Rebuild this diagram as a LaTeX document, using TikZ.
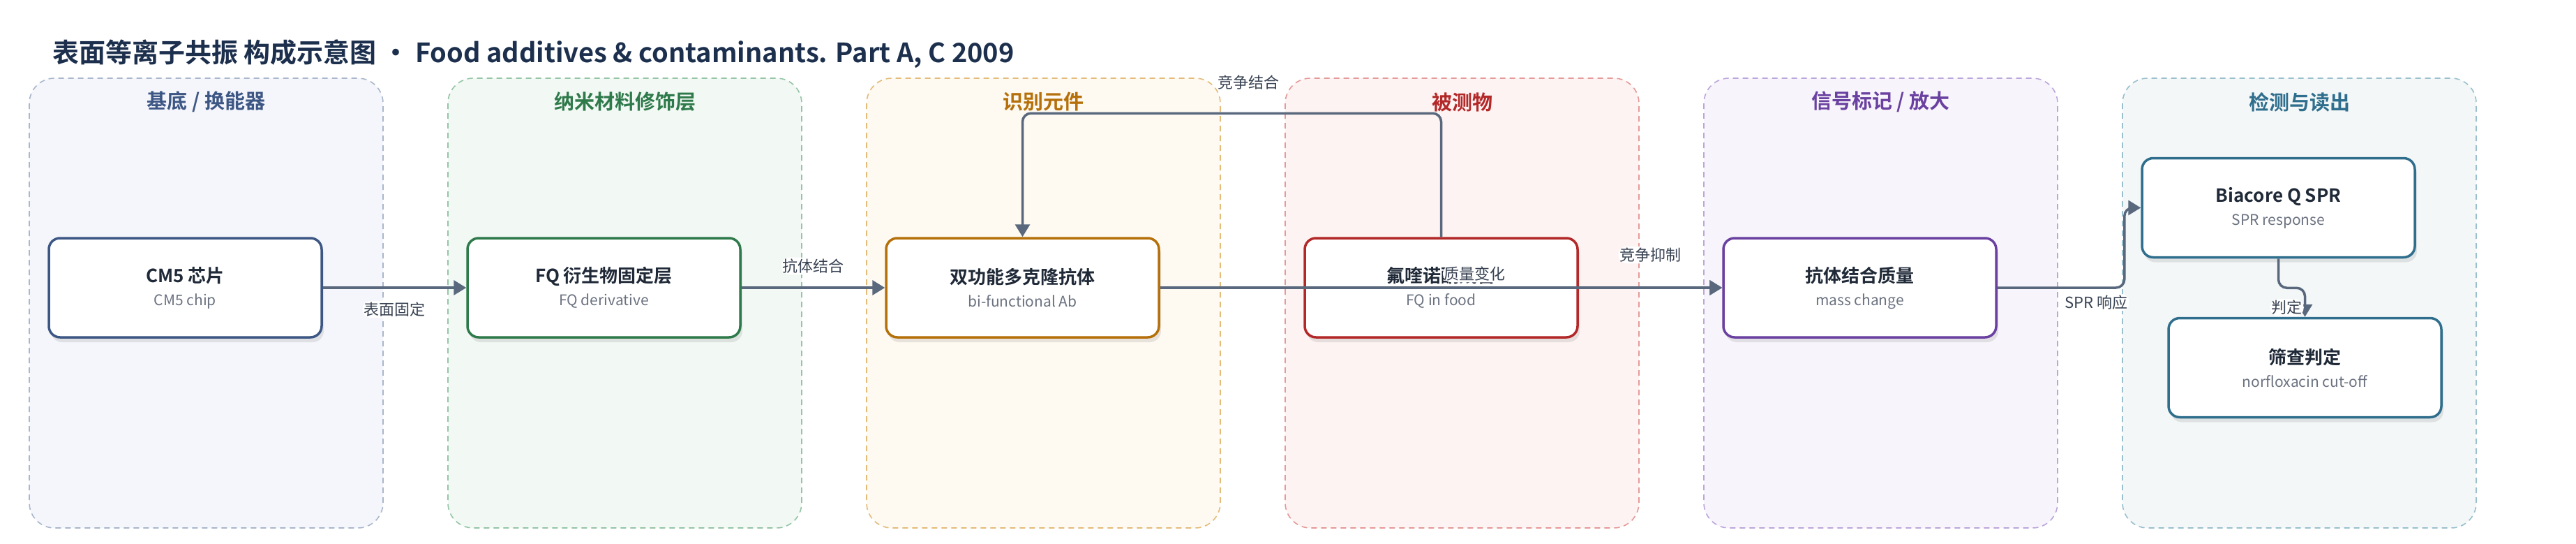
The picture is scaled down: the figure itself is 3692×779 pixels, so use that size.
\documentclass[tikz,border=0pt]{standalone}
\usepackage{fontspec}
\setmainfont{Noto Sans CJK SC}[BoldFont={Noto Sans CJK SC Bold}]
\usetikzlibrary{arrows.meta,shadows}

\definecolor{titlec}{HTML}{1C2F4D}
\definecolor{edgec}{HTML}{59687D}
\definecolor{textc}{HTML}{1F2937}
\definecolor{subc}{HTML}{6B7280}
\definecolor{lblc}{HTML}{374151}
\definecolor{laneAdraw}{HTML}{A9B6CB}\definecolor{laneAfill}{HTML}{F5F6FB}\definecolor{laneAtext}{HTML}{3D5785}
\definecolor{laneBdraw}{HTML}{95C4A6}\definecolor{laneBfill}{HTML}{F2F8F4}\definecolor{laneBtext}{HTML}{2E7A4A}
\definecolor{laneCdraw}{HTML}{E3BC7A}\definecolor{laneCfill}{HTML}{FEF9F1}\definecolor{laneCtext}{HTML}{B5700A}
\definecolor{laneDdraw}{HTML}{E39A98}\definecolor{laneDfill}{HTML}{FDF3F2}\definecolor{laneDtext}{HTML}{B32828}
\definecolor{laneEdraw}{HTML}{BBA6DA}\definecolor{laneEfill}{HTML}{F7F4FB}\definecolor{laneEtext}{HTML}{6A41A0}
\definecolor{laneFdraw}{HTML}{9AC0CD}\definecolor{laneFfill}{HTML}{F3F7F8}\definecolor{laneFtext}{HTML}{2F6E8D}

\newcommand{\nt}[1]{{\fontsize{26pt}{33pt}\selectfont\bfseries\color{textc}#1}}
\newcommand{\ns}[1]{{\fontsize{21pt}{33pt}\selectfont\color{subc}#1}}

\begin{document}
\begin{tikzpicture}[x=1pt,y=-1pt]
\tikzset{lane/.style={draw=#1draw, fill=#1fill, line width=1.6pt, dash pattern=on 8pt off 6pt, rounded corners=36pt},
  lanetitle/.style={text=#1text, font=\fontsize{29pt}{29pt}\selectfont\bfseries},
  box/.style={draw=#1text, line width=3.5pt, fill=white, rounded corners=16pt, minimum width=391pt, minimum height=142pt, align=center, font=\fontsize{21pt}{33pt}\selectfont, drop shadow={shadow xshift=3pt, shadow yshift=-7pt, opacity=0.18}},
  flow/.style={draw=edgec, line width=3.5pt, rounded corners=12pt, -{Triangle[length=18pt,width=21pt]}},
  lbl/.style={fill=white, inner sep=2pt, text=lblc, font=\fontsize{22pt}{22pt}\selectfont}}
\useasboundingbox (0,0) rectangle (3692,779);
\fill[white] (0,0) rectangle (3692,779);
\node[anchor=west, inner sep=0pt, text=titlec, font=\fontsize{38pt}{38pt}\selectfont\bfseries] (title) at (75,77) {表面等离子共振 构成示意图 • Food additives \& contaminants. Part A, C 2009};
\draw[lane=laneA] (42,112) rectangle (549,756);
\draw[lane=laneB] (642,112) rectangle (1149,756);
\draw[lane=laneC] (1242,112) rectangle (1749,756);
\draw[lane=laneD] (1842,112) rectangle (2349,756);
\draw[lane=laneE] (2442,112) rectangle (2949,756);
\draw[lane=laneF] (3042,112) rectangle (3549,756);
\node[lanetitle=laneA] (LA) at (295.5,146) {基底 / 换能器};
\node[lanetitle=laneB] (LB) at (895.5,146) {纳米材料修饰层};
\node[lanetitle=laneC] (LC) at (1495.5,146) {识别元件};
\node[lanetitle=laneD] (LD) at (2095.5,146) {被测物};
\node[lanetitle=laneE] (LE) at (2695.5,146) {信号标记 / 放大};
\node[lanetitle=laneF] (LF) at (3295.5,146) {检测与读出};
\node[box=laneA] (chip) at (265.5,412) {\nt{CM5 芯片}\\\ns{CM5 chip}};
\node[box=laneB] (fq) at (865.5,412) {\nt{FQ 衍生物固定层}\\\ns{FQ derivative}};
\node[box=laneC] (ab) at (1465.5,412) {\nt{双功能多克隆抗体}\\\ns{bi-functional Ab}};
\node[box=laneD] (fqfood) at (2065.5,412) {\nt{氟喹诺酮残留}\\\ns{FQ in food}};
\node[box=laneE] (mass) at (2665.5,412) {\nt{抗体结合质量}\\\ns{mass change}};
\node[box=laneF] (spr) at (3265.5,297.5) {\nt{Biacore Q SPR}\\\ns{SPR response}};
\node[box=laneF] (judge) at (3303.5,526.5) {\nt{筛查判定}\\\ns{norfloxacin cut-off}};
\draw[flow] (chip) -- node[lbl, below=17pt] {表面固定} (fq);
\draw[flow] (fq) -- node[lbl, above=17pt] {抗体结合} (ab);
\draw[flow] (ab) -- node[lbl, pos=0.56, above=6pt] {质量变化} (mass);
\draw[flow] (fqfood) -- node[lbl, above=33pt] {竞争抑制} (mass);
\draw[flow] (fqfood.north) -- ++(0,-177) -| node[lbl, pos=0.23, above=30pt] {竞争结合} (ab.north);
\draw[flow] (mass.east) -- node[lbl, pos=0.78, below=7pt] {SPR 响应} ++(182,0) |- (spr);
\draw[flow] (spr.south) -- ++(0,42) -| node[lbl, pos=0.84, left=0pt] {判定} (judge.north);
\end{tikzpicture}
\end{document}
